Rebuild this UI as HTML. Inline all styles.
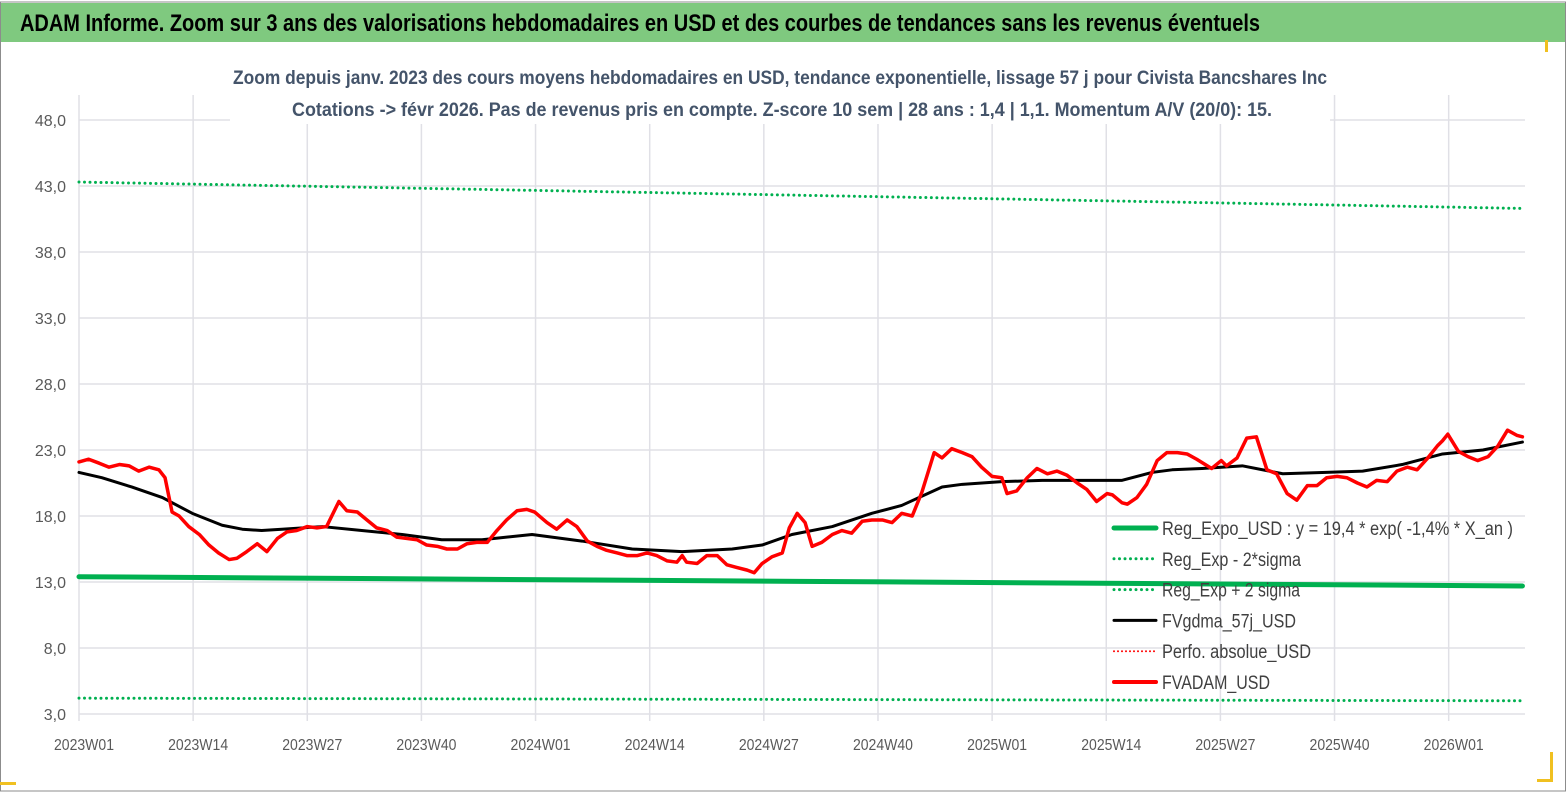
<!DOCTYPE html>
<html><head><meta charset="utf-8"><style>
html,body{margin:0;padding:0;background:#fff;}
svg{display:block;font-family:"Liberation Sans",sans-serif;}
</style></head><body>
<svg id="chart" width="1567" height="792" viewBox="0 0 1567 792">
<rect x="0" y="0" width="1567" height="792" fill="#fff"/>
<rect x="0.5" y="2" width="1565" height="789" fill="none" stroke="#8c8c8c"/>
<rect x="1" y="3" width="1564" height="39" fill="#7fc97f"/>
<text x="20" y="31" font-size="24" font-weight="bold" fill="#000" textLength="1240" lengthAdjust="spacingAndGlyphs">ADAM Informe. Zoom sur 3 ans des valorisations hebdomadaires en USD et des courbes de tendances sans les revenus éventuels</text>
<g id="grid"></g>
<rect x="230" y="60" width="1100" height="64" fill="#fff"/>
<text x="780" y="84" text-anchor="middle" font-size="19" font-weight="bold" fill="#44546a" textLength="1094" lengthAdjust="spacingAndGlyphs">Zoom depuis janv. 2023 des cours moyens hebdomadaires en USD, tendance exponentielle, lissage 57 j pour Civista Bancshares Inc</text>
<text x="782" y="116" text-anchor="middle" font-size="19" font-weight="bold" fill="#44546a" textLength="980" lengthAdjust="spacingAndGlyphs">Cotations -&gt; févr 2026.  Pas de revenus pris en compte. Z-score 10 sem  | 28 ans : 1,4  | 1,1. Momentum A/V (20/0): 15.</text>
<g id="series"></g>
<g id="legend"></g>
<rect x="1545" y="40" width="3" height="12" fill="#f0c020"/>
<rect x="1550" y="752" width="3" height="30" fill="#f0c020"/>
<rect x="1537" y="779" width="16" height="3" fill="#f0c020"/>
<rect x="0" y="782" width="16" height="3" fill="#f0c020"/>
</svg>
<script>
const yTicks=[3,8,13,18,23,28,33,38,43,48];
const xTickLabels=["2023W01","2023W14","2023W27","2023W40","2024W01","2024W14","2024W27","2024W40","2025W01","2025W14","2025W27","2025W40","2026W01"];
const xTickWeeks=[0,13,26,39,52,65,78,91,104,117,130,143,156];
const redWeeks=[0,1.1,2.3,3.4,4.6,5.7,6.8,8,9.1,9.8,10.6,11.4,12.5,13.7,14.8,15.9,17.1,18,19.1,20.3,21.4,22.6,23.7,24.8,26,27.1,28.2,29.6,30.5,31.7,32.8,33.9,35.1,36.2,37.3,38.5,39.6,40.8,41.9,43.1,44.2,45.3,46.5,47.6,48.7,49.9,51,51.9,53.3,54.4,55.6,56.7,57.9,59,60.1,61.3,62.4,63.6,64.7,65.8,67,68.1,68.7,69.2,70.4,71.5,72.7,73.8,74.9,76.1,76.9,77.8,78.9,80.1,80.9,81.8,82.7,83.5,84.6,85.8,86.9,88,89.2,90.3,91.5,92.6,93.7,94.9,96,97.4,98.3,99.4,100.6,101.7,102.8,104,105.1,105.7,106.8,108,109.1,110.3,111.4,112.5,113.7,114.8,115.9,117.1,117.7,118.8,119.4,120.5,121.6,122.8,123.9,125.1,126.2,127.3,129,130.1,130.7,131.9,133,134.1,135.3,136.4,137.6,138.7,139.9,141,142.1,143.3,144.4,145.6,146.7,147.8,149,150.1,151.3,152.4,153.5,154.7,155.3,155.9,157.1,158.2,159.3,160.5,161.6,162.7,163.8,164.4];
const redValues=[22.1,22.3,22.0,21.7,21.9,21.8,21.4,21.7,21.5,20.9,18.3,18.0,17.2,16.6,15.8,15.2,14.7,14.8,15.3,15.9,15.3,16.3,16.8,16.9,17.2,17.1,17.2,19.1,18.4,18.3,17.7,17.1,16.9,16.4,16.3,16.2,15.8,15.7,15.5,15.5,15.9,16.0,16.0,16.9,17.7,18.4,18.5,18.3,17.5,17.0,17.7,17.2,16.1,15.7,15.4,15.2,15.0,15.0,15.2,15.0,14.6,14.5,15.0,14.5,14.4,15.0,15.0,14.3,14.1,13.9,13.7,14.4,14.9,15.2,17.1,18.2,17.5,15.7,16.0,16.6,16.9,16.7,17.6,17.7,17.7,17.5,18.2,18.0,19.8,22.8,22.4,23.1,22.8,22.5,21.7,21.0,20.9,19.7,19.9,20.9,21.6,21.2,21.4,21.1,20.5,20.0,19.1,19.7,19.6,19.0,18.9,19.4,20.4,22.2,22.8,22.8,22.7,22.3,21.6,22.2,21.8,22.4,23.9,24.0,21.5,21.2,19.7,19.2,20.3,20.3,20.9,21.0,20.9,20.5,20.2,20.7,20.6,21.4,21.7,21.5,22.3,23.3,23.7,24.2,22.9,22.5,22.2,22.5,23.3,24.5,24.1,24.0];
const blackWeeks=[0,2.6,6,9.5,12.9,16.3,18.6,20.8,23.1,27.7,32.2,36.8,41.3,45.9,51.6,57.3,63,68.7,74.4,77.8,81.2,85.8,90.3,93.7,98.3,100.6,105.1,109.7,114.2,118.8,122.2,124.5,127.9,132.5,137.1,141.6,146.2,150.7,155.3,159.9,164.4];
const blackValues=[21.3,20.9,20.2,19.4,18.2,17.3,17.0,16.9,17.0,17.2,16.9,16.6,16.2,16.2,16.6,16.1,15.5,15.3,15.5,15.8,16.6,17.2,18.2,18.8,20.2,20.4,20.6,20.7,20.7,20.7,21.3,21.5,21.6,21.8,21.2,21.3,21.4,21.9,22.7,23.0,23.6];
const trendWeeks=[0,82,164.4];
const regValues=[13.4,13.05,12.7];
const upperValues=[43.3,42.3,41.3];
const lowerValues=[4.2,4.1,4.0];

const X0=79,X1=1525,PX_PER_WEEK=8.78,Y_MIN=3,Y_MAX=48,YT=120,YB=714;
function xs(w){return X0+w*PX_PER_WEEK;}
function ys(v){return YB-(v-Y_MIN)/(Y_MAX-Y_MIN)*(YB-YT);}
const NS="http://www.w3.org/2000/svg";
function mk(tag,attrs,parent){const e=document.createElementNS(NS,tag);for(const k in attrs)e.setAttribute(k,attrs[k]);parent.appendChild(e);return e;}
const grid=document.getElementById('grid');
yTicks.forEach(v=>{
  const l=mk('line',{x1:X0,x2:X1,y1:ys(v),y2:ys(v),stroke:'#e0e0e6','stroke-width':1.5},grid);
  
  
  const t=mk('text',{x:66,y:ys(v)+6,'text-anchor':'end','font-size':16,fill:'#595959'},grid);
  t.textContent=v.toFixed(1).replace('.',',');
  
  
});
xTickWeeks.forEach((w,i)=>{
  const l=mk('line',{x1:xs(w),x2:xs(w),y1:95,y2:YB+7,stroke:'#e0e0e6','stroke-width':1.5},grid);
  
  
  const t=mk('text',{x:xs(w)-25,y:YB+36,'font-size':16,fill:'#595959',textLength:60,lengthAdjust:'spacingAndGlyphs'},grid);
  t.textContent=xTickLabels[i];
  
  
});
const ser=document.getElementById('series');
function line(ws,vs,style,name){
  const p=mk('polyline',Object.assign({points:ws.map((w,i)=>xs(w)+','+ys(vs[i])).join(' '),fill:'none','stroke-linejoin':'round','stroke-linecap':'round'},style),ser);
  
  
}
line(trendWeeks,upperValues,{stroke:'#00b050','stroke-width':3,'stroke-dasharray':'0 5.5'},'upper-2sigma-line');
line(trendWeeks,lowerValues,{stroke:'#00b050','stroke-width':3,'stroke-dasharray':'0 5.5'},'lower-2sigma-line');
line(trendWeeks,regValues,{stroke:'#00b050','stroke-width':5},'regression-line');
line(blackWeeks,blackValues,{stroke:'#000','stroke-width':3},'fvgdma-line');
line(redWeeks,redValues,{stroke:'#ff0000','stroke-width':3.5},'fvadam-line');
const leg=document.getElementById('legend');
const items=[["Reg_Expo_USD : y = 19,4 * exp( -1,4% *  X_an )",'#00b050',5,null,351],["Reg_Exp - 2*sigma",'#00b050',3,'0 5.5',139],["Reg_Exp + 2 sigma",'#00b050',3,'0 5.5',138],["FVgdma_57j_USD",'#000',3,null,134],["Perfo. absolue_USD",'#ff0000',2,'0 4',149],["FVADAM_USD",'#ff0000',4,null,108]];
items.forEach((it,i)=>{
  const y=528+i*30.8;
  const st={x1:1114,x2:1156,y1:y,y2:y,stroke:it[1],'stroke-width':it[2],'stroke-linecap':'round'};
  if(it[3])st['stroke-dasharray']=it[3];
  const l=mk('line',st,leg);
  
  
  const t=mk('text',{x:1162,y:y+7,'font-size':19,fill:'#404040',textLength:it[4],lengthAdjust:'spacingAndGlyphs'},leg);
  t.textContent=it[0];
  
  
});
</script>
</body></html>
